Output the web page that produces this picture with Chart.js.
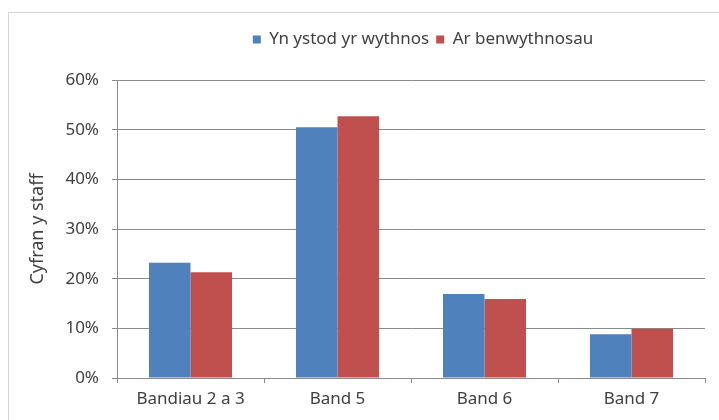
<!DOCTYPE html>
<html><head><meta charset="utf-8">
<script src="https://cdn.jsdelivr.net/npm/chart.js@4/dist/chart.umd.min.js"></script>
<style>
html,body{margin:0;padding:0;background:#fff;}
#wrap{position:relative;width:719px;height:420px;overflow:hidden;}
#frame{position:absolute;left:8px;top:12px;width:730px;height:430px;border-left:1px solid #d4d4d4;border-top:1px solid #d4d4d4;}
canvas{position:absolute;left:0;top:0;}
</style></head>
<body>
<div id="wrap"><div id="frame"></div><canvas id="c" width="719" height="420"></canvas></div>
<script>
const categories = ['Bandiau 2 a 3', 'Band 5', 'Band 6', 'Band 7'];
const seriesNames = ['Yn ystod yr wythnos', 'Ar benwythnosau'];
const weekday = [23.2, 50.5, 16.9, 8.8];
const weekend = [21.3, 52.7, 15.9, 9.9];
const yTicks = [0, 10, 20, 30, 40, 50, 60];
const yTitle = 'Cyfran y staff';

const FONT = "'Noto Sans', 'Open Sans', sans-serif";
const TXT = '#404040';
const GRID = '#8a8a8a';

const legendFix = {
  id: 'legendFix',
  beforeInit(chart) {
    const lg = chart.legend;
    const orig = lg.fit.bind(lg);
    lg.fit = function () { orig(); this.height = 80; };
  },
  beforeDraw(chart) {
    const lg = chart.legend;
    lg.left = 131; lg.right = 715; lg.width = 584;
    lg.top = 24; lg.bottom = 80;
  }
};

new Chart(document.getElementById('c'), {
  type: 'bar',
  data: {
    labels: categories,
    datasets: [
      { label: seriesNames[0], data: weekday, backgroundColor: '#4F81BD', barPercentage: 1, categoryPercentage: 0.565 },
      { label: seriesNames[1], data: weekend, backgroundColor: '#C0504D', barPercentage: 1, categoryPercentage: 0.565 }
    ]
  },
  options: {
    responsive: false,
    animation: false,
    devicePixelRatio: 1,
    layout: { padding: { top: 0, left: 27, right: 14, bottom: 0 } },
    plugins: {
      legend: {
        position: 'top',
        align: 'center',
        labels: { boxWidth: 8, boxHeight: 8, padding: 7, color: TXT, font: { family: FONT, size: 17 } }
      },
      tooltip: { enabled: false }
    },
    scales: {
      x: {
        offset: true,
        grid: { offset: true, drawOnChartArea: false, color: GRID, tickLength: 5 },
        border: { color: GRID },
        ticks: { color: TXT, font: { family: FONT, size: 17 }, padding: 6, maxRotation: 0 },
        afterFit(s) { s.height = 42; }
      },
      y: {
        min: 0, max: 60,
        afterBuildTicks(s) { s.ticks = yTicks.map(v => ({ value: v })); },
        grid: { color: GRID, tickLength: 5 },
        border: { color: GRID },
        ticks: { color: TXT, font: { family: FONT, size: 17 }, padding: 13, callback: v => v + '%' },
        title: { display: true, text: yTitle, color: TXT, font: { family: FONT, size: 18 }, padding: { top: 0, bottom: 4 } },
        afterFit(s) { s.width = 90; }
      }
    }
  },
  plugins: [legendFix]
});
</script>
</body></html>
